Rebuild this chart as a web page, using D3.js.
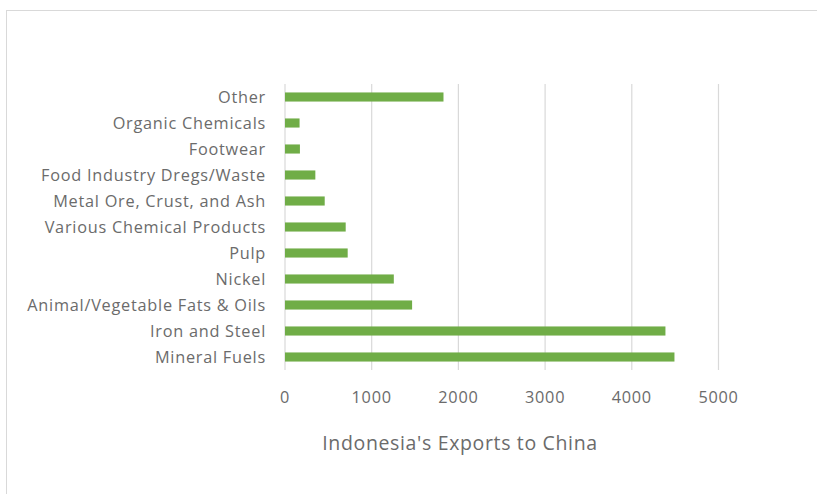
<!DOCTYPE html>
<html><head><meta charset="utf-8">
<script src="https://cdn.jsdelivr.net/npm/d3@7"></script>
<style>body{margin:0;background:#fff}svg{display:block}</style>
</head><body>
<script>
const categories = ["Mineral Fuels","Iron and Steel","Animal/Vegetable Fats & Oils","Nickel","Pulp","Various Chemical Products","Metal Ore, Crust, and Ash","Food Industry Dregs/Waste","Footwear","Organic Chemicals","Other"];
const values = [4492, 4388, 1466, 1255, 723, 700, 458, 350, 172, 168, 1828];
const xTicks = [0,1000,2000,3000,4000,5000];
const title = "Indonesia's Exports to China";

const W=817,H=494;
const svg=d3.select("body").append("svg").attr("width",W).attr("height",H);
const font="'Open Sans', sans-serif";
const txt="#6b6b6b";
svg.append("rect").attr("x",6.5).attr("y",10.5).attr("width",W).attr("height",H).attr("fill","#fff").attr("stroke","#d9d9d9");

const x=d3.scaleLinear().domain([0,5000]).range([285,718.5]);
const y=d3.scaleBand().domain(categories.slice().reverse()).range([84,370]).paddingInner(0.65).paddingOuter(0.325);

svg.append("g").selectAll("line").data(xTicks).join("line")
 .attr("x1",d=>x(d)).attr("x2",d=>x(d)).attr("y1",84).attr("y2",370)
 .attr("stroke","#d9d9d9").attr("stroke-width",1.2);

svg.append("g").selectAll("rect").data(categories).join("rect")
 .attr("x",x(0)).attr("y",d=>y(d)).attr("height",y.bandwidth())
 .attr("width",(d,i)=>x(values[i])-x(0)).attr("fill","#70ad47");

svg.append("g").selectAll("text").data(categories).join("text")
 .attr("x",266).attr("y",d=>y(d)+y.bandwidth()/2).attr("dy","0.35em")
 .attr("text-anchor","end").attr("font-family",font).attr("font-size",16.3)
 .attr("letter-spacing","0.75px").attr("fill",txt).text(d=>d);

svg.append("g").selectAll("text").data(xTicks).join("text")
 .attr("x",d=>x(d)).attr("y",397).attr("dy","0.35em").attr("text-anchor","middle")
 .attr("font-family",font).attr("font-size",16.3).attr("letter-spacing","0.75px").attr("fill",txt).text(d=>d);

svg.append("text").attr("x",460).attr("y",443).attr("dy","0.35em").attr("text-anchor","middle")
 .attr("font-family",font).attr("font-size",19.5).attr("letter-spacing","0.65px").attr("fill",txt).text(title);
</script>
</body></html>
